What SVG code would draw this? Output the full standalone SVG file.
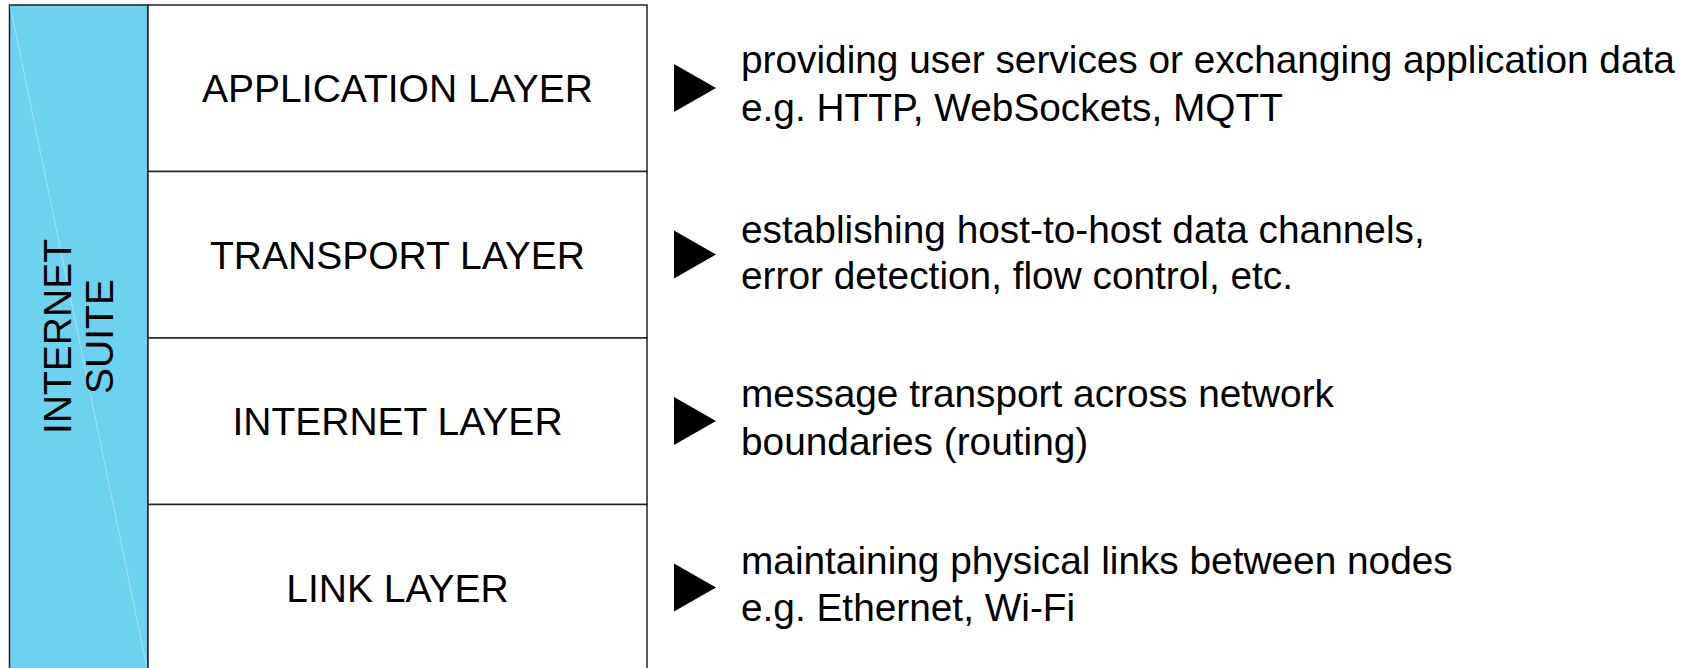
<svg xmlns="http://www.w3.org/2000/svg" width="1688" height="668" viewBox="0 0 1688 668">
<style>
text{font-family:"Liberation Sans",Arial,sans-serif;font-size:39px;fill:#000}
.lbl{text-anchor:middle}
.desc{font-size:38.8px}
.box{fill:#fff;stroke:#222;stroke-width:1.5}
.arr{fill:#000}
</style>
<rect width="1688" height="668" fill="#fff"/>
<g id="suite">
<rect x="9.5" y="5" width="138.5" height="670" fill="#6DD2EF" stroke="#222" stroke-width="1.5"/>
<line x1="10" y1="5" x2="147" y2="668" stroke="#fff" stroke-opacity="0.35" stroke-width="1"/>
<text class="lbl" transform="translate(71,336.5) rotate(-90)">INTERNET</text>
<text class="lbl" transform="translate(113.3,336.5) rotate(-90)">SUITE</text>
</g>
<g id="application">
<rect class="box" x="148" y="5" width="499" height="166.5"/>
<text class="lbl" x="397.5" y="102.3">APPLICATION LAYER</text>
</g>
<g id="transport">
<rect class="box" x="148" y="171.5" width="499" height="166.5"/>
<text class="lbl" x="397.5" y="268.8">TRANSPORT LAYER</text>
</g>
<g id="internet">
<rect class="box" x="148" y="338" width="499" height="166.5"/>
<text class="lbl" x="397.5" y="435.3">INTERNET LAYER</text>
</g>
<g id="link">
<rect class="box" x="148" y="504.5" width="499" height="170"/>
<text class="lbl" x="397.5" y="601.8">LINK LAYER</text>
</g>
<g id="connectors">
<polygon class="arr" points="674,64 716,88 674,112"/>
<polygon class="arr" points="674,230.5 716,254.5 674,278.5"/>
<polygon class="arr" points="674,397 716,421 674,445"/>
<polygon class="arr" points="674,563.5 716,587.5 674,611.5"/>
</g>
<g id="desc-application" class="desc">
<text class="desc" x="741" y="73.3">providing user services or exchanging application data</text>
<text class="desc" x="741" y="120.7">e.g. HTTP, WebSockets, MQTT</text>
</g>
<g id="desc-transport">
<text class="desc" x="741" y="243">establishing host-to-host data channels,</text>
<text class="desc" x="741" y="289">error detection, flow control, etc.</text>
</g>
<g id="desc-internet">
<text class="desc" x="741" y="407">message transport across network</text>
<text class="desc" x="741" y="455">boundaries (routing)</text>
</g>
<g id="desc-link">
<text class="desc" x="741" y="573.5">maintaining physical links between nodes</text>
<text class="desc" x="741" y="621">e.g. Ethernet, Wi-Fi</text>
</g>
</svg>
